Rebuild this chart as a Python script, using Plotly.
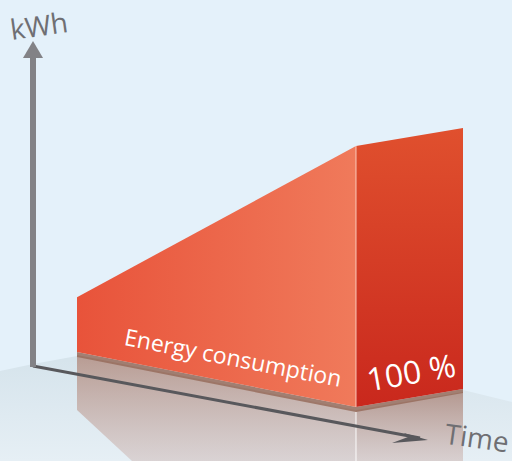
import plotly.graph_objects as go

# ---------------- data ----------------
phases = ["Start", "End"]          # time positions along the time axis
phase_t = [0.0, 1.0]
consumption_pct = [21, 100]        # energy consumption (% of final value)
axis_labels = ["kWh", "Time"]
series_label = "Energy consumption"
total_label = "100 %"

# ---------------- projection (oblique 3-D look, pixel space) ----------------
W, H = 512, 461
BASE0 = (77, 352)     # floor point of t = 0 on front face
BASE1 = (356, 407)    # floor point of t = 1 on front face
SCALE = 2.61          # px per percent
DEPTH = (107, -18)    # depth offset of the block


def proj(t, h, d=0.0):
    x = BASE0[0] + t * (BASE1[0] - BASE0[0]) + d * DEPTH[0]
    y = BASE0[1] + t * (BASE1[1] - BASE0[1]) - h * SCALE + d * DEPTH[1]
    return x, y


def poly(fig, pts, color=None, gradient=None, line=None):
    xs = [p[0] for p in pts] + [pts[0][0]]
    ys = [p[1] for p in pts] + [pts[0][1]]
    kw = dict(x=xs, y=ys, mode="lines", fill="toself", hoverinfo="skip",
              line=line or dict(width=0, color="rgba(0,0,0,0)"))
    if gradient is not None:
        kw["fillgradient"] = gradient
    else:
        kw["fillcolor"] = color
    fig.add_trace(go.Scatter(**kw))


fig = go.Figure()

# floor plane
poly(fig, [(0, 371), (33, 364), (77, 356), (463, 390), (512, 402), (512, H), (0, H)],
     gradient=dict(type="vertical", start=360, stop=H,
                   colorscale=[[0, "#D6E4EC"], [1, "#E6EFF5"]]))

# reflections of the block on the floor
f0 = proj(phase_t[0], 0)
f1 = proj(phase_t[1], 0)
b1 = proj(phase_t[1], 0, 1)
poly(fig, [(f0[0], f0[1] + 3), (f1[0], f1[1] + 3), (f1[0], H), (f0[0] + 55, H), (f0[0], f0[1] + 58)],
     gradient=dict(type="vertical", start=f0[1], stop=H,
                   colorscale=[[0, "rgba(170,122,105,0.7)"], [1, "rgba(205,182,178,0.5)"]]))
poly(fig, [(f1[0], f1[1] + 3), (b1[0], b1[1] + 3), (b1[0], H), (f1[0], H)],
     gradient=dict(type="vertical", start=b1[1], stop=H,
                   colorscale=[[0, "rgba(165,122,108,0.75)"], [1, "rgba(205,182,178,0.55)"]]))
# dark contact strip just under the block
poly(fig, [f0, f1, b1, (b1[0], b1[1] + 4), (f1[0], f1[1] + 5), (f0[0], f0[1] + 5)],
     color="rgba(150,108,92,0.85)")
# white seam in reflection
fig.add_trace(go.Scatter(x=[f1[0], f1[0]], y=[f1[1] + 5, H], mode="lines",
                         line=dict(color="rgba(255,255,255,0.8)", width=1.2), hoverinfo="skip"))

# time axis
ax_origin = (33, 366)
ax_end = (420, 438)
fig.add_trace(go.Scatter(x=[ax_origin[0], ax_end[0]], y=[ax_origin[1], ax_end[1]], mode="lines",
                         line=dict(color="#58585C", width=3), hoverinfo="skip"))
poly(fig, [(428, 440), (404, 433), (408, 437), (392, 443)], color="#58585C")

# kWh axis
fig.add_trace(go.Scatter(x=[33, 33], y=[367, 56], mode="lines",
                         line=dict(color="#828286", width=6), hoverinfo="skip"))
poly(fig, [(23, 58), (33, 41), (43, 58)], color="#828286")

# front face (rising energy consumption)
front = [proj(phase_t[0], 0), proj(phase_t[0], consumption_pct[0]),
         proj(phase_t[1], consumption_pct[1]), proj(phase_t[1], 0)]
poly(fig, front, gradient=dict(type="horizontal", start=front[0][0], stop=front[2][0],
                               colorscale=[[0, "#E8533A"], [1, "#F07A5B"]]))

# side face (total)
side = [proj(phase_t[1], 0), proj(phase_t[1], consumption_pct[1]),
        proj(phase_t[1], consumption_pct[1], 1), proj(phase_t[1], 0, 1)]
poly(fig, side, gradient=dict(type="vertical", start=side[2][1], stop=side[0][1],
                              colorscale=[[0, "#E0502E"], [1, "#C9281D"]]))

# edge highlight between faces
fig.add_trace(go.Scatter(x=[side[0][0], side[1][0]], y=[side[0][1], side[1][1]], mode="lines",
                         line=dict(color="rgba(255,225,215,0.8)", width=1), hoverinfo="skip"))

FONT = "Open Sans"
fig.add_annotation(x=39, y=25, text=axis_labels[0], showarrow=False, textangle=-8,
                   font=dict(family=FONT, size=28, color="#6F6F73"))
fig.add_annotation(x=477, y=437, text=axis_labels[1], showarrow=False, textangle=8,
                   font=dict(family=FONT, size=28, color="#6F6F73"))
fig.add_annotation(x=233, y=357, text=series_label, showarrow=False, textangle=11,
                   font=dict(family=FONT, size=23, color="white"))
fig.add_annotation(x=411, y=371, text=total_label, showarrow=False, textangle=-10,
                   font=dict(family=FONT, size=32, color="white"))

fig.update_layout(
    width=W, height=H, margin=dict(l=0, r=0, t=0, b=0),
    paper_bgcolor="#E4F1FA", plot_bgcolor="#E4F1FA", showlegend=False,
    xaxis=dict(range=[0, W], visible=False, fixedrange=True),
    yaxis=dict(range=[H, 0], visible=False, fixedrange=True),
)

fig.write_html("out.html", config={"displayModeBar": False},
               post_script="document.body.style.margin='0';document.body.style.overflow='hidden';")
